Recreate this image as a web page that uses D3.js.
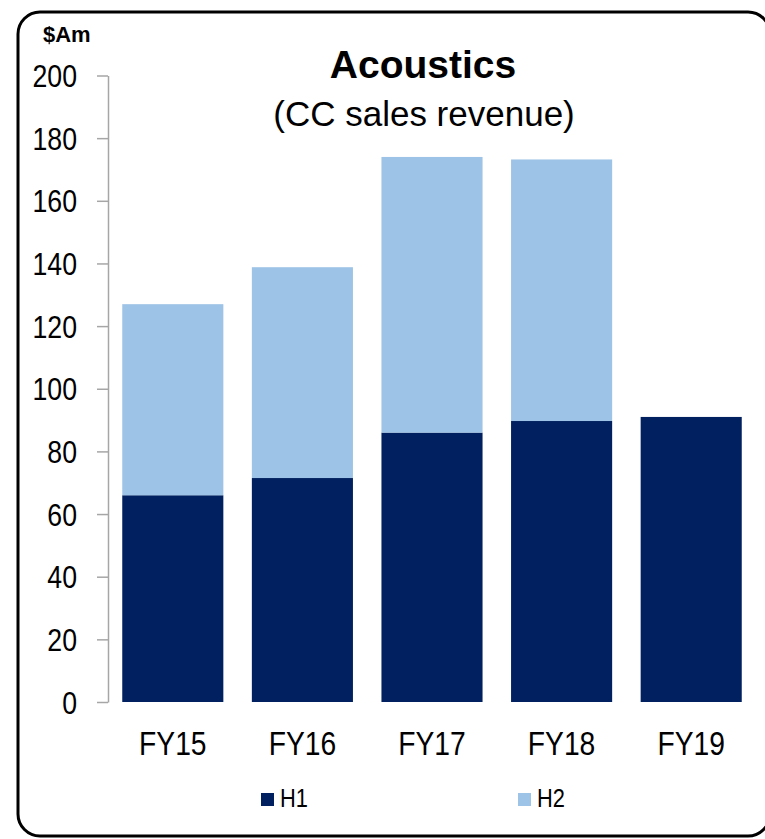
<!DOCTYPE html>
<html>
  <head>
    <meta charset="utf-8">
    <title>Acoustics</title>
    <script src="https://d3js.org/d3.v7.min.js"></script>
    <style>
      body { margin: 0; background: #fff; }
      #chart { display: block; }
      text { fill: #000; font-family: "Liberation Sans", Arial, sans-serif; }
    </style>
  </head>
  <body>
    <svg id="chart" width="765" height="839"></svg>
    <script>
      // data
      var years = ["FY15", "FY16", "FY17", "FY18", "FY19"];
      var h1 = [66, 71.5, 86, 89.7, 91];
      var h2 = [61, 67.3, 88, 83.5, 0];
      var halves = ["H1", "H2"];
      var colours = ["#00205f", "#9dc3e6"];
      var yTicks = [0, 20, 40, 60, 80, 100, 120, 140, 160, 180, 200];

      var chart = d3.select("#chart");

      // the labels are set in a narrow face; squeeze the regular one
      function narrow(sel, k) {
        sel.each(function() {
          var w = this.getComputedTextLength();
          d3.select(this)
            .attr("textLength", w * k)
            .attr("lengthAdjust", "spacingAndGlyphs");
        });
      }

      // frame
      chart.append("rect")
        .attr("x", 18)
        .attr("y", 12)
        .attr("width", 752)
        .attr("height", 824)
        .attr("rx", 22)
        .attr("fill", "none")
        .attr("stroke", "#000")
        .attr("stroke-width", 3);

      var x = d3.scaleBand()
        .domain(years)
        .range([108, 756])
        .paddingInner(0.22)
        .paddingOuter(0.11);
      var y = d3.scaleLinear()
        .domain([0, 200])
        .range([702, 75.5]);
      var colour = d3.scaleOrdinal()
        .domain(halves)
        .range(colours);

      var rows = years.map(function(d, i) { return { year: d, H1: h1[i], H2: h2[i] }; });
      var stacked = d3.stack().keys(halves)(rows);

      chart.append("g")
        .selectAll("g")
          .data(stacked)
        .enter().append("g")
          .attr("fill", function(d) { return colour(d.key); })
        .selectAll("rect")
          .data(function(d) { return d; })
        .enter().append("rect")
          .attr("x", function(d) { return x(d.data.year); })
          .attr("width", x.bandwidth())
          .attr("y", function(d) { return y(d[1]); })
          .attr("height", function(d) { return y(d[0]) - y(d[1]); });

      // y axis
      var yAxisGroup = chart.append("g")
        .attr("transform", "translate(108, 0)")
        .call(d3.axisLeft(y)
          .tickValues(yTicks)
          .tickSize(11)
          .tickSizeOuter(0)
          .tickPadding(20));
      yAxisGroup.attr("font-family", null).attr("font-size", null);
      yAxisGroup.selectAll("path, line")
        .attr("stroke", "#a6a6a6")
        .attr("stroke-width", 1.5);
      yAxisGroup.selectAll("text")
        .attr("font-size", 31)
        .attr("dy", "0.36em")
        .attr("fill", "#000")
        .call(narrow, 0.86);

      // x labels
      chart.append("g")
        .selectAll("text")
          .data(years)
        .enter().append("text")
          .attr("x", function(d) { return x(d) + x.bandwidth() / 2; })
          .attr("y", 755)
          .attr("text-anchor", "middle")
          .attr("font-size", 34)
          .text(function(d) { return d; })
          .call(narrow, 0.83);

      // titles
      chart.append("text")
        .attr("x", 423)
        .attr("y", 78)
        .attr("text-anchor", "middle")
        .attr("font-weight", "bold")
        .attr("font-size", 39)
        .text("Acoustics");
      chart.append("text")
        .attr("x", 424)
        .attr("y", 126)
        .attr("text-anchor", "middle")
        .attr("font-size", 35)
        .text("(CC sales revenue)");
      chart.append("text")
        .attr("x", 43)
        .attr("y", 42)
        .attr("font-weight", "bold")
        .attr("font-size", 22)
        .text("$Am");

      // legend
      var legendX = d3.scaleOrdinal()
        .domain(halves)
        .range([261, 518]);
      var legend = chart.append("g")
        .selectAll("g")
          .data(halves)
        .enter().append("g")
          .attr("transform", function(d) { return "translate(" + legendX(d) + ", 793)"; });
      legend.append("rect")
        .attr("width", 13)
        .attr("height", 13)
        .attr("fill", function(d) { return colour(d); });
      legend.append("text")
        .attr("x", 19)
        .attr("y", 14)
        .attr("font-size", 26)
        .text(function(d) { return d; })
        .call(narrow, 0.84);
    </script>
  </body>
</html>
